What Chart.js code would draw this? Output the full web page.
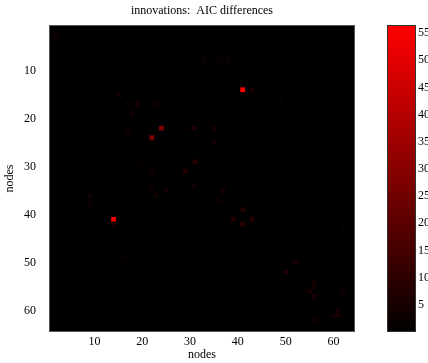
<!DOCTYPE html>
<html>
<head>
<meta charset="utf-8">
<script src="https://cdn.jsdelivr.net/npm/chart.js@4/dist/chart.umd.min.js"></script>
<style>
  html, body { margin: 0; padding: 0; background: #fff; overflow: hidden; }
  canvas { display: block; }
</style>
</head>
<body>
<div style="width:440px;height:363px;position:relative">
<canvas id="chart"></canvas>
</div>
<script>
// 64 x 64 node matrix, black almost everywhere: only the visible cells are listed
const nodeCount = 64;
const hotCol = [41, 14, 24, 22, 43, 31, 31, 29, 22, 23, 35, 35, 29, 33, 36, 38, 2, 17, 19, 15, 18, 17, 19, 14, 9, 9, 16, 41, 39, 43, 41, 25, 22, 23, 31, 37, 36, 52, 50, 56, 55, 56, 56, 62, 61, 61, 60, 56, 62, 49];
const hotRow = [14, 41, 22, 24, 14, 22, 29, 31, 31, 17, 22, 25, 22, 8, 8, 8, 3, 17, 17, 15, 19, 23, 29, 42, 36, 38, 49, 39, 41, 41, 42, 35, 35, 36, 34, 35, 37, 50, 52, 54, 56, 57, 55, 56, 61, 60, 61, 62, 43, 16];
const hotVal = [56.5, 55, 28, 27, 5, 6, 8, 8, 4, 4, 4, 3, 3, 2.5, 2.5, 2.5, 3.5, 4, 4.5, 3, 4, 3.5, 2.5, 4.5, 3.5, 3.5, 2, 7, 7, 9, 8, 4, 3, 3.5, 3.5, 3.5, 3, 6, 6, 4, 4.5, 4.5, 3.5, 4, 5, 4, 3.5, 3.5, 2, 2];

const colorMax = 56.5;
const nodeTicks = [10, 20, 30, 40, 50, 60];
const colorTicks = [5, 10, 15, 20, 25, 30, 35, 40, 45, 50, 55];
const titleText = "innovations:  AIC differences";

const serif = { family: "'Liberation Serif', 'Times New Roman', serif", size: 12, weight: "normal" };

function cellColor(v) {
  const r = Math.round(255 * Math.max(0, Math.min(1, v / colorMax)));
  return `rgb(${r},0,0)`;
}

const heatmap = {
  id: "heatmap",
  beforeDatasetsDraw(chart) {
    const { ctx, chartArea: a, scales: { x, y, cb } } = chart;
    ctx.save();
    ctx.fillStyle = cellColor(0);
    ctx.fillRect(a.left, a.top, a.right - a.left, a.bottom - a.top);
    hotCol.forEach((c, i) => {
      const x0 = x.getPixelForValue(c - 0.5);
      const x1 = x.getPixelForValue(c + 0.5);
      const y0 = y.getPixelForValue(hotRow[i] - 0.5);
      const y1 = y.getPixelForValue(hotRow[i] + 0.5);
      ctx.fillStyle = cellColor(hotVal[i]);
      ctx.fillRect(x0, y0, x1 - x0, y1 - y0);
    });
    ctx.strokeStyle = "#555";
    ctx.lineWidth = 1;
    ctx.strokeRect(a.left + 0.5, a.top + 0.5, a.right - a.left - 1, a.bottom - a.top - 1);

    // colour bar, drawn against its own scale
    const top = cb.getPixelForValue(colorMax);
    const bottom = cb.getPixelForValue(0);
    const left = cb.left + 32;
    const grad = ctx.createLinearGradient(0, bottom, 0, top);
    grad.addColorStop(0, cellColor(0));
    grad.addColorStop(1, cellColor(colorMax));
    ctx.fillStyle = grad;
    ctx.fillRect(left, top, 29, bottom - top);
    ctx.strokeStyle = "#333";
    ctx.strokeRect(left + 0.5, top + 0.5, 28, bottom - top - 1);
    ctx.restore();
  },
};

const fixedTicks = (list) => (scale) => {
  scale.ticks = list.map((v) => ({ value: v }));
};

// pin an axis box size and drop the label overhang padding Chart.js adds
const pinWidth = (w) => (s) => { s.width = w; s.paddingTop = 0; s.paddingBottom = 0; };

new Chart(document.getElementById("chart"), {
  type: "scatter",
  data: {
    datasets: [{
      data: hotCol.map((c, i) => ({ x: c, y: hotRow[i] })),
      pointRadius: 0,
    }],
  },
  options: {
    responsive: true,
    maintainAspectRatio: false,
    devicePixelRatio: 1,
    animation: false,
    layout: { padding: 0 },
    plugins: {
      legend: { display: false },
      tooltip: { enabled: false },
      title: {
        display: true,
        text: titleText,
        fullSize: false,
        color: "#000",
        font: serif,
        padding: { top: 4, bottom: 6.6 },
      },
    },
    scales: {
      x: {
        type: "linear",
        min: 0.5,
        max: nodeCount + 0.5,
        afterBuildTicks: fixedTicks(nodeTicks),
        afterFit(s) { s.height = 31; s.paddingLeft = 0; s.paddingRight = 0; },
        grid: { display: false, drawTicks: false },
        border: { display: false },
        ticks: { color: "#000", font: serif, padding: 3, maxRotation: 0 },
        title: { display: true, text: "nodes", color: "#000", font: serif, padding: { top: 0, bottom: 1 } },
      },
      y: {
        type: "linear",
        reverse: true,
        min: 0.5,
        max: nodeCount + 0.5,
        afterBuildTicks: fixedTicks(nodeTicks),
        afterFit: pinWidth(49),
        grid: { display: false, drawTicks: false },
        border: { display: false },
        ticks: { color: "#000", font: serif, padding: 13 },
        title: { display: true, text: "nodes", color: "#000", font: serif, padding: { top: 3, bottom: 0 } },
      },
      cb: {
        type: "linear",
        position: "right",
        min: 0,
        max: colorMax,
        afterBuildTicks: fixedTicks(colorTicks),
        afterFit: pinWidth(85),
        grid: { display: false, drawTicks: false },
        border: { display: false },
        ticks: { color: "#000", font: serif, padding: 63 },
      },
    },
  },
  plugins: [heatmap],
});
</script>
</body>
</html>
